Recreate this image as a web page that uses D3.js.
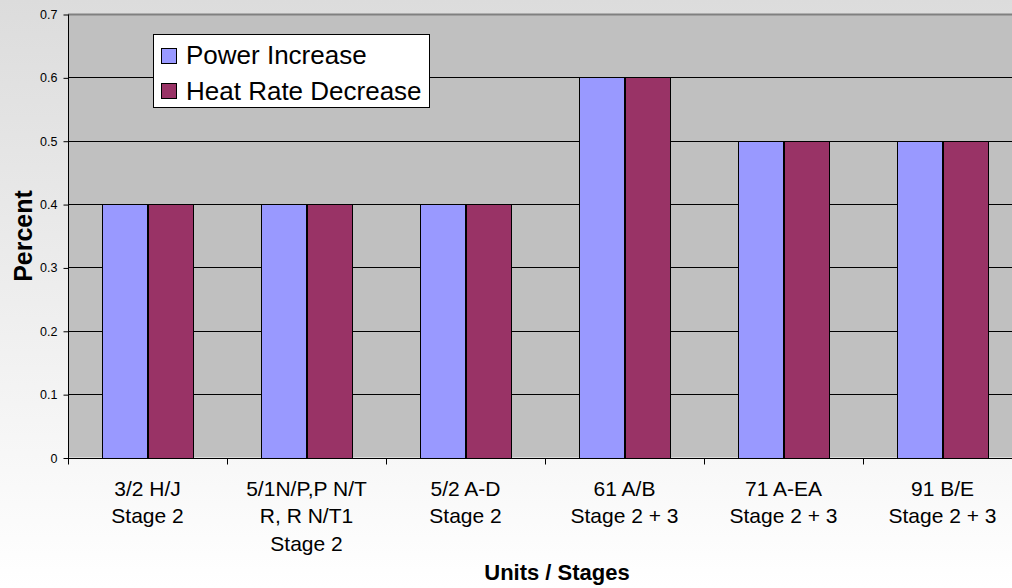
<!DOCTYPE html>
<html><head><meta charset="utf-8">
<script src="https://cdn.jsdelivr.net/npm/d3@7"></script>
<style>html,body{margin:0;padding:0;overflow:hidden;}svg{display:block;font-family:"Liberation Sans",Arial,sans-serif;}</style>
</head><body>
<svg id="chart" width="1012" height="588"></svg>
<script>
const categories = [
  ["3/2 H/J", "Stage 2"],
  ["5/1N/P,P N/T", "R, R N/T1", "Stage 2"],
  ["5/2 A-D", "Stage 2"],
  ["61 A/B", "Stage 2 + 3"],
  ["71 A-EA", "Stage 2 + 3"],
  ["91 B/E", "Stage 2 + 3"]
];
const seriesNames = ["Power Increase", "Heat Rate Decrease"];
const powerIncrease = [0.4, 0.4, 0.4, 0.6, 0.5, 0.5];
const heatRateDecrease = [0.4, 0.4, 0.4, 0.6, 0.5, 0.5];
const yTicks = [0, 0.1, 0.2, 0.3, 0.4, 0.5, 0.6, 0.7];
const colors = ["#9999ff", "#993366"];
const series = [powerIncrease, heatRateDecrease];

(function(){
const svg = d3.select("#chart");
const W = 1012, H = 588;
const defs = svg.append("defs");
const grad = defs.append("linearGradient").attr("id","bg").attr("x1",0).attr("y1",0).attr("x2",0).attr("y2",1);
grad.append("stop").attr("offset","0%").attr("stop-color","#dcdcdc");
grad.append("stop").attr("offset","100%").attr("stop-color","#ffffff");
svg.append("rect").attr("width",W).attr("height",H).attr("fill","url(#bg)");

const pL = 68, pT = 14, pB = 457.5, pR = 1022;
const x = d3.scaleBand().domain(d3.range(categories.length)).range([pL, pR]).paddingInner(0).paddingOuter(0);
const x1 = d3.scaleBand().domain(d3.range(series.length)).range([0, x.bandwidth()]).paddingInner(0).paddingOuter(0.75);
const y = d3.scaleLinear().domain([0, 0.7]).range([pB, pT]);

svg.append("rect").attr("x",pL).attr("y",pT).attr("width",pR-pL).attr("height",pB-pT).attr("fill","#c0c0c0");
svg.append("g").selectAll("line").data(yTicks.filter(d=>d>0 && d<0.7)).join("line")
  .attr("x1",pL).attr("x2",pR).attr("y1",d=>Math.round(y(d))+0.5).attr("y2",d=>Math.round(y(d))+0.5)
  .attr("stroke","#000").attr("stroke-width",1);
svg.append("line").attr("x1",pL).attr("x2",pR).attr("y1",pT+0.5).attr("y2",pT+0.5).attr("stroke","#808080").attr("stroke-width",2);

categories.forEach((c,i)=>{
  series.forEach((s,j)=>{
    svg.append("rect")
      .attr("x", Math.round(x(i)+x1(j))+0.5)
      .attr("y", Math.round(y(s[i]))+0.5)
      .attr("width", Math.round(x1.bandwidth()))
      .attr("height", Math.round(y(0))-Math.round(y(s[i])))
      .attr("fill", colors[j]).attr("stroke","#000").attr("stroke-width",1);
  });
});

const yAxis = d3.axisLeft(y).tickValues(yTicks).tickSize(5).tickPadding(6).tickFormat(d=>d===0?"0":d3.format(".1f")(d));
const gy = svg.append("g").attr("transform",`translate(${pL+0.5},0.5)`).call(yAxis);
gy.select(".domain").attr("stroke","#000").attr("d",`M0,${pT}V${pB}`);
gy.selectAll(".tick line").attr("stroke","#000");
gy.selectAll("text").attr("font-size","12.5px").attr("fill","#000").attr("font-family","Liberation Sans, Arial, sans-serif");

const gx = svg.append("g").attr("transform",`translate(0,${Math.round(pB)+0.5})`);
gx.append("line").attr("x1",pL).attr("x2",pR).attr("stroke","#000");
gx.selectAll("line.tk").data(d3.range(categories.length+1)).join("line").attr("class","tk")
  .attr("x1",d=>Math.round(pL + d*x.bandwidth())+0.5).attr("x2",d=>Math.round(pL + d*x.bandwidth())+0.5)
  .attr("y1",0).attr("y2",6).attr("stroke","#000");
categories.forEach((lines,i)=>{
  const t = svg.append("text").attr("text-anchor","middle").attr("font-size","21px").attr("fill","#000")
    .attr("x", x(i)+x.bandwidth()/2).attr("y", 495.5);
  lines.forEach((ln,k)=>{
    t.append("tspan").attr("x", x(i)+x.bandwidth()/2).attr("dy", k===0?0:27.5).text(ln);
  });
});

svg.append("text").attr("x", 557).attr("y", 580).attr("text-anchor","middle").attr("font-weight","bold").attr("font-size","22px").text("Units / Stages");
svg.append("text").attr("transform","translate(32,236) rotate(-90)").attr("text-anchor","middle").attr("font-weight","bold").attr("font-size","25px").text("Percent");

const lg = svg.append("g");
lg.append("rect").attr("x",153.5).attr("y",34.5).attr("width",276).attr("height",73).attr("fill","#fff").attr("stroke","#000");
seriesNames.forEach((n,j)=>{
  lg.append("rect").attr("x",161.5).attr("y",48.5+j*35).attr("width",15).attr("height",15).attr("fill",colors[j]).attr("stroke","#000");
  lg.append("text").attr("x",186).attr("y",64+j*36).attr("font-size","26px").attr("fill","#000").text(n);
});
})();
</script>
</body></html>
